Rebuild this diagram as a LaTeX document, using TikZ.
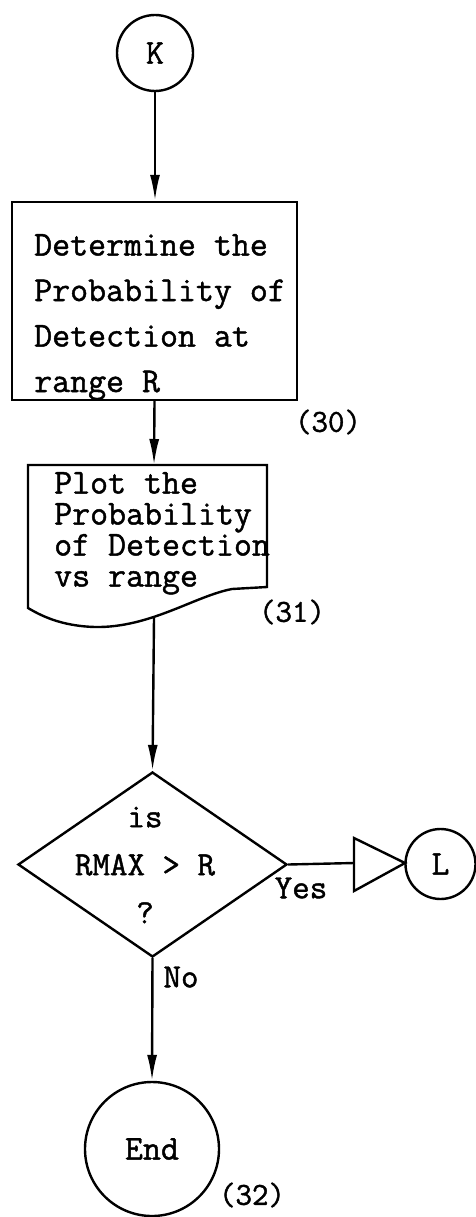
\documentclass[tikz,border=0pt]{standalone}
\usepackage{fontspec}
\newfontfamily\tw[FakeBold=1.3]{Latin Modern Mono}
\usetikzlibrary{shapes.geometric,arrows.meta}
\begin{document}
\begin{tikzpicture}[x=1pt,y=-1pt,
  line width=2.4pt,
  shp/.style={draw,inner sep=0pt},
  txt/.style={inner sep=0pt,font=\tw\fontsize{34.9}{45.5}\selectfont},
  txtb/.style={inner sep=0pt,font=\tw\fontsize{34.9}{31}\selectfont},
  lab/.style={inner sep=0pt,font=\tw\fontsize{32}{32}\selectfont},
  sml/.style={inner sep=0pt,font=\tw\fontsize{34}{48}\selectfont},
  arr/.style={-{Latex[length=26pt,width=10pt]}},
]
\useasboundingbox (0,0) rectangle (476,1217);
% K connector
\node[shp,circle,minimum size=76pt,txt] (K) at (155,53) {K};
% process box
\node[shp,rectangle,minimum width=285pt,minimum height=198pt] (b1) at (154.5,301) {};
\node[txt,anchor=north west,align=left] (b1t) at (33,233) {Determine the\\Probability of\\Detection at\\range R};
\node[lab] (n30) at (328,422) {(30)};
% document box
\coordinate (b2top) at (154,465);
\coordinate (b2bot) at (154,618);
\draw (28,608) -- (28,465) -- (267,465) -- (267,587) -- (232,589)
  .. controls (195,596) and (150,628) .. (95,627)
  .. controls (60,626) and (40,615) .. (28,608) -- cycle;
\node[txtb,anchor=north west,align=left] (b2t) at (53,471) {Plot the\\Probability\\of Detection\\vs range};
\node[lab] (n31) at (292,612) {(31)};
% decision
\node[shp,diamond,minimum width=269pt,minimum height=185pt] (D) at (152.5,864.5) {};
\node[sml,align=center] (Dt) at (145,865) {is\\RMAX > R\\?};
\node[sml] (yes) at (301,888) {Yes};
\node[sml] (no) at (181,977) {No};
% off-page connector
\coordinate (tl) at (354,863);
\draw (354,838) -- (405,863) -- (354,891) -- cycle;
\node[shp,circle,minimum size=70pt,txt] (L) at (440.5,864) {L};
% end
\node[shp,circle,minimum size=134pt,txt] (End) at (152,1149) {End};
\node[lab] (n32) at (252,1195) {(32)};
% connectors
\draw[arr] (K.south) -- (K.south |- b1.north);
\draw[arr] (b1.south) -- (b2top);
\draw[arr] (b2bot) -- (D.north);
\draw (D.east) -- (tl);
\draw[arr] (D.south) -- (End.north);
\end{tikzpicture}
\end{document}
